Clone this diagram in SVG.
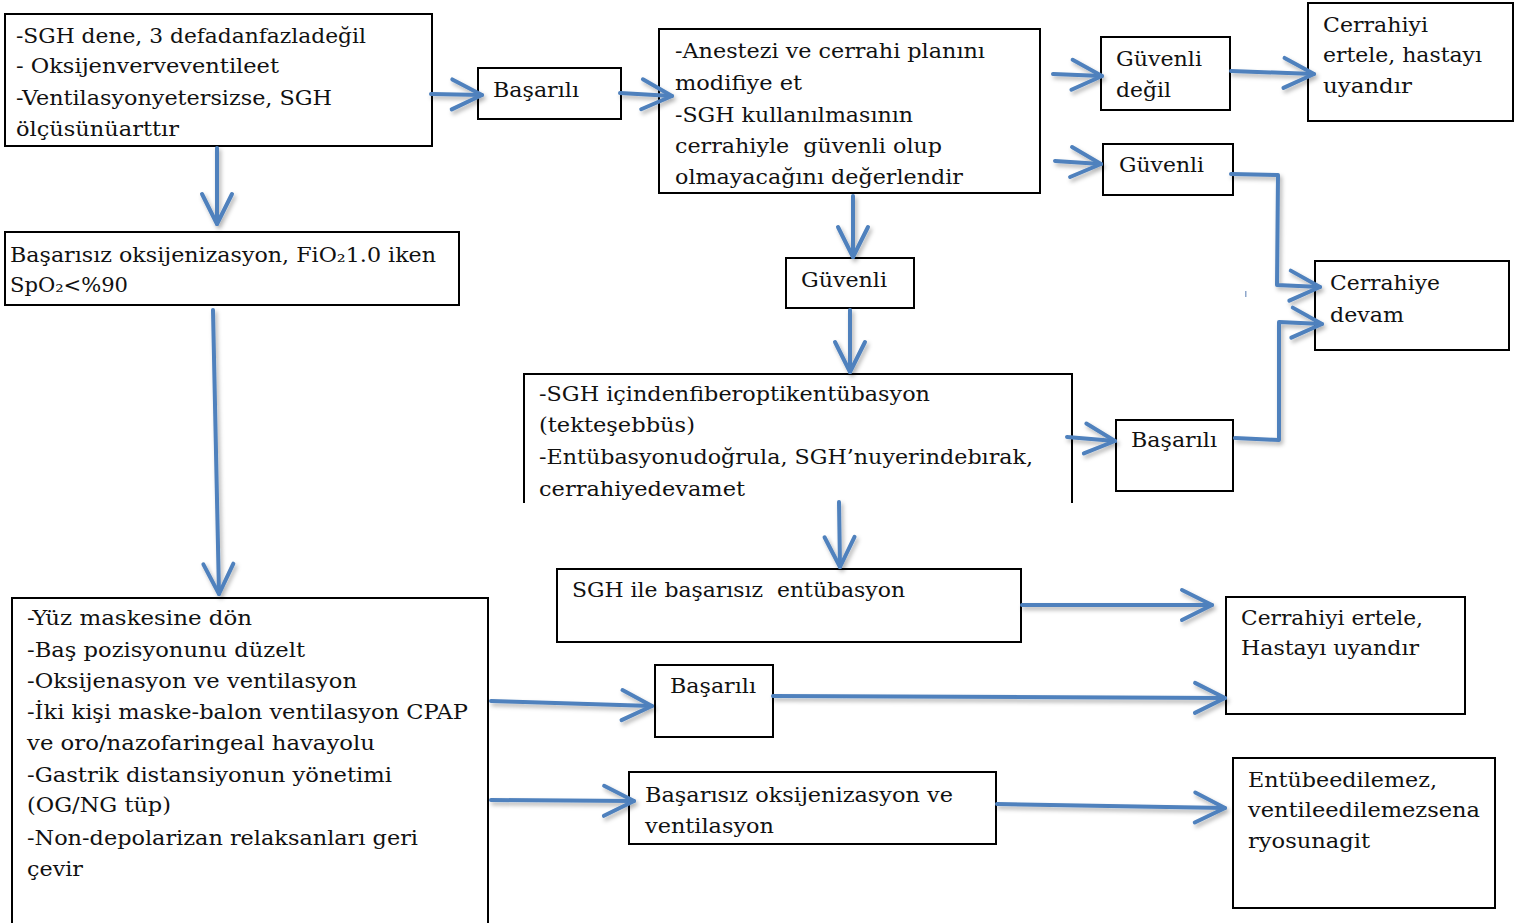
<svg xmlns="http://www.w3.org/2000/svg" width="1522" height="923" viewBox="0 0 1522 923">
<style>
.t{font-family:"DejaVu Serif","Liberation Serif",serif;font-size:21px;fill:#111;white-space:pre}
.b{fill:#fff;stroke:#000;stroke-width:2}
.c{fill:none;stroke:#4F81BD;stroke-width:4;stroke-linecap:round;stroke-linejoin:round;marker-end:url(#ah)}
</style>
<defs>
<marker id="ah" markerUnits="userSpaceOnUse" viewBox="-36 -20 40 40" markerWidth="40" markerHeight="40" refX="0" refY="0" orient="auto" overflow="visible">
<path d="M-30,-15 L0,0 L-30,15" fill="none" stroke="#4F81BD" stroke-width="4" stroke-linecap="round" stroke-linejoin="round"/>
</marker>
<filter id="sh" x="-20%" y="-20%" width="140%" height="140%">
<feDropShadow dx="2" dy="3" stdDeviation="2" flood-color="#000" flood-opacity="0.3"/>
</filter>
</defs>
<rect width="1522" height="923" fill="#fff"/>

<g id="n1"><rect class="b" x="5" y="14" width="427" height="132"/>
<text class="t" x="16" y="43" textLength="350" lengthAdjust="spacingAndGlyphs">-SGH dene, 3 defadanfazladeğil</text>
<text class="t" x="16" y="73" textLength="263" lengthAdjust="spacingAndGlyphs">- Oksijenverveventileet</text>
<text class="t" x="16" y="105" textLength="316" lengthAdjust="spacingAndGlyphs">-Ventilasyonyetersizse, SGH</text>
<text class="t" x="16" y="136" textLength="163" lengthAdjust="spacingAndGlyphs">ölçüsünüarttır</text></g>

<g id="n2"><rect class="b" x="5" y="232" width="454" height="73"/>
<text class="t" x="10" y="262" textLength="426" lengthAdjust="spacingAndGlyphs">Başarısız oksijenizasyon, FiO₂1.0 iken</text>
<text class="t" x="10" y="292" textLength="118" lengthAdjust="spacingAndGlyphs">SpO₂&lt;%90</text></g>

<g id="n3"><rect class="b" x="478" y="68" width="143" height="51"/>
<text class="t" x="493" y="97" textLength="86" lengthAdjust="spacingAndGlyphs">Başarılı</text></g>

<g id="n4"><rect class="b" x="659" y="29" width="381" height="164"/>
<text class="t" x="675" y="58" textLength="310" lengthAdjust="spacingAndGlyphs">-Anestezi ve cerrahi planını</text>
<text class="t" x="675" y="90" textLength="127" lengthAdjust="spacingAndGlyphs">modifiye et</text>
<text class="t" x="675" y="122" textLength="238" lengthAdjust="spacingAndGlyphs">-SGH kullanılmasının</text>
<text class="t" x="675" y="153" textLength="267" lengthAdjust="spacingAndGlyphs">cerrahiyle  güvenli olup</text>
<text class="t" x="675" y="184" textLength="288" lengthAdjust="spacingAndGlyphs">olmayacağını değerlendir</text></g>

<g id="n5"><rect class="b" x="1101" y="37" width="129" height="73"/>
<text class="t" x="1116" y="66" textLength="86" lengthAdjust="spacingAndGlyphs">Güvenli</text>
<text class="t" x="1116" y="97" textLength="55" lengthAdjust="spacingAndGlyphs">değil</text></g>

<g id="n6"><rect class="b" x="1308" y="3" width="205" height="118"/>
<text class="t" x="1323" y="32" textLength="105" lengthAdjust="spacingAndGlyphs">Cerrahiyi</text>
<text class="t" x="1323" y="62" textLength="159" lengthAdjust="spacingAndGlyphs">ertele, hastayı</text>
<text class="t" x="1323" y="93" textLength="89" lengthAdjust="spacingAndGlyphs">uyandır</text></g>

<g id="n7"><rect class="b" x="1103" y="144" width="130" height="51"/>
<text class="t" x="1119" y="172" textLength="85" lengthAdjust="spacingAndGlyphs">Güvenli</text></g>

<g id="n8"><rect class="b" x="1315" y="261" width="194" height="89"/>
<text class="t" x="1330" y="290" textLength="110" lengthAdjust="spacingAndGlyphs">Cerrahiye</text>
<text class="t" x="1330" y="322" textLength="74" lengthAdjust="spacingAndGlyphs">devam</text></g>

<g id="n9"><rect class="b" x="786" y="258" width="128" height="50"/>
<text class="t" x="801" y="287" textLength="86" lengthAdjust="spacingAndGlyphs">Güvenli</text></g>

<g id="n10"><path d="M524,503 V374 H1072 V503" fill="#fff" stroke="#000" stroke-width="2"/>
<text class="t" x="539" y="401" textLength="391" lengthAdjust="spacingAndGlyphs">-SGH içindenfiberoptikentübasyon</text>
<text class="t" x="539" y="432" textLength="156" lengthAdjust="spacingAndGlyphs">(tekteşebbüs)</text>
<text class="t" x="539" y="464" textLength="494" lengthAdjust="spacingAndGlyphs">-Entübasyonudoğrula, SGH’nuyerindebırak,</text>
<text class="t" x="539" y="496" textLength="206" lengthAdjust="spacingAndGlyphs">cerrahiyedevamet</text></g>

<g id="n11"><rect class="b" x="1116" y="420" width="117" height="71"/>
<text class="t" x="1131" y="447" textLength="86" lengthAdjust="spacingAndGlyphs">Başarılı</text></g>

<g id="n12"><rect class="b" x="557" y="569" width="464" height="73"/>
<text class="t" x="572" y="597" textLength="333" lengthAdjust="spacingAndGlyphs">SGH ile başarısız  entübasyon</text></g>

<g id="n13"><rect class="b" x="1226" y="597" width="239" height="117"/>
<text class="t" x="1241" y="625" textLength="182" lengthAdjust="spacingAndGlyphs">Cerrahiyi ertele,</text>
<text class="t" x="1241" y="655" textLength="178" lengthAdjust="spacingAndGlyphs">Hastayı uyandır</text></g>

<g id="n14"><rect class="b" x="655" y="665" width="118" height="72"/>
<text class="t" x="670" y="693" textLength="86" lengthAdjust="spacingAndGlyphs">Başarılı</text></g>

<g id="n15"><rect class="b" x="629" y="772" width="367" height="72"/>
<text class="t" x="645" y="802" textLength="308" lengthAdjust="spacingAndGlyphs">Başarısız oksijenizasyon ve</text>
<text class="t" x="645" y="833" textLength="129" lengthAdjust="spacingAndGlyphs">ventilasyon</text></g>

<g id="n16"><rect class="b" x="1233" y="758" width="262" height="150"/>
<text class="t" x="1248" y="787" textLength="189" lengthAdjust="spacingAndGlyphs">Entübeedilemez,</text>
<text class="t" x="1248" y="817" textLength="232" lengthAdjust="spacingAndGlyphs">ventileedilemezsena</text>
<text class="t" x="1248" y="848" textLength="122" lengthAdjust="spacingAndGlyphs">ryosunagit</text></g>

<g id="n17"><rect class="b" x="12" y="598" width="476" height="345"/>
<text class="t" x="27" y="625" textLength="225" lengthAdjust="spacingAndGlyphs">-Yüz maskesine dön</text>
<text class="t" x="27" y="657" textLength="278" lengthAdjust="spacingAndGlyphs">-Baş pozisyonunu düzelt</text>
<text class="t" x="27" y="688" textLength="330" lengthAdjust="spacingAndGlyphs">-Oksijenasyon ve ventilasyon</text>
<text class="t" x="27" y="719" textLength="441" lengthAdjust="spacingAndGlyphs">-İki kişi maske-balon ventilasyon CPAP</text>
<text class="t" x="27" y="750" textLength="348" lengthAdjust="spacingAndGlyphs">ve oro/nazofaringeal havayolu</text>
<text class="t" x="27" y="782" textLength="365" lengthAdjust="spacingAndGlyphs">-Gastrik distansiyonun yönetimi</text>
<text class="t" x="27" y="812" textLength="144" lengthAdjust="spacingAndGlyphs">(OG/NG tüp)</text>
<text class="t" x="27" y="845" textLength="391" lengthAdjust="spacingAndGlyphs">-Non-depolarizan relaksanları geri</text>
<text class="t" x="27" y="876" textLength="56" lengthAdjust="spacingAndGlyphs">çevir</text></g>

<g id="connectors" filter="url(#sh)">
<path class="c" d="M431,94 L482,95"/>
<path class="c" d="M620,93 L672,96"/>
<path class="c" d="M217,148 L217,224"/>
<path class="c" d="M213,310 L219,594"/>
<path class="c" d="M1053,74 L1102,76"/>
<path class="c" d="M1231,71 L1314,74"/>
<path class="c" d="M1055,161 L1101,164"/>
<path class="c" d="M1231,174 L1278,175 L1277,285 L1320,287"/>
<path class="c" d="M853,196 L853,257"/>
<path class="c" d="M850,310 L850,372"/>
<path class="c" d="M1067,437 L1115,441"/>
<path class="c" d="M1235,438 L1279,440 L1279,322 L1322,324"/>
<path class="c" d="M839,502 L840,567"/>
<path class="c" d="M1022,605 L1212,605"/>
<path class="c" d="M491,701 L652,706"/>
<path class="c" d="M773,696 L1225,698"/>
<path class="c" d="M491,800 L634,801"/>
<path class="c" d="M997,804 L1225,808"/>
</g>
<rect x="1245" y="291" width="1.5" height="6" fill="#8fa8cc"/>
</svg>
